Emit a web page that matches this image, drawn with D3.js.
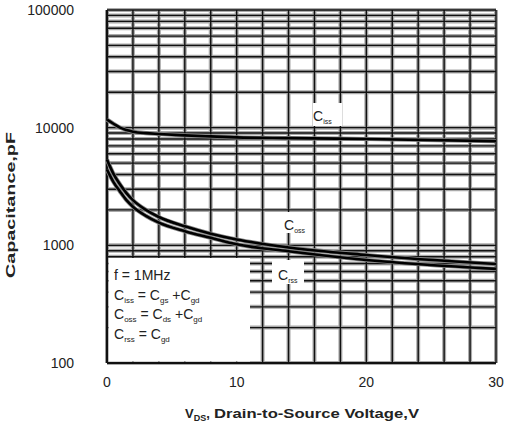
<!DOCTYPE html>
<html>
<head>
<meta charset="utf-8">
<script src="https://cdn.jsdelivr.net/npm/d3@7"></script>
<style>
  html, body { margin: 0; padding: 0; background: #fff; }
  text { font-family: "Liberation Sans", Arial, sans-serif; fill: #222; }
</style>
</head>
<body>
<script>
// ---- data ----
const voltage = [0, 0.5, 1, 1.5, 2, 3, 4, 6, 8, 10, 14, 20, 30];
const ciss = [11700, 10800, 10000, 9550, 9250, 8980, 8840, 8600, 8430, 8270, 8150, 8010, 7680];
const coss = [5350, 4050, 3300, 2780, 2420, 2000, 1740, 1450, 1255, 1120, 960, 827, 693];
const crss = [4400, 3450, 2870, 2420, 2130, 1780, 1560, 1320, 1160, 1020, 890, 750, 631];
const xTicks = [0, 10, 20, 30];
const yTicks = [100, 1000, 10000, 100000];
const legendLines = [
  [["f = 1MHz", null]],
  [["C", "iss"], [" = C", "gs"], [" +C", "gd"]],
  [["C", "oss"], [" = C", "ds"], [" +C", "gd"]],
  [["C", "rss"], [" = C", "gd"]]
];

const W = 506, H = 430;
const pLeft = 107, pRight = 496, pTop = 10, pBottom = 363;

const svg = d3.select("body").append("svg").attr("width", W).attr("height", H);

const x = d3.scaleLinear().domain([0, 30]).range([pLeft, pRight]);
const y = d3.scaleLog().domain([100, 100000]).range([pBottom, pTop]);

// grid
const vGrid = d3.range(0, 31, 2);
const hGrid = [];
[100, 1000, 10000].forEach(d => { for (let k = 1; k <= 9; k++) hGrid.push(d * k); });
hGrid.push(100000);

const g = svg.append("g");
g.selectAll(".vh").data(vGrid).join("line")
  .attr("x1", d => x(d)).attr("x2", d => x(d)).attr("y1", pTop).attr("y2", pBottom)
  .attr("stroke", "#aaa").attr("stroke-width", 4);
g.selectAll(".hh").data(hGrid).join("line")
  .attr("x1", pLeft).attr("x2", pRight).attr("y1", d => y(d)).attr("y2", d => y(d))
  .attr("stroke", "#aaa").attr("stroke-width", 4);
g.selectAll(".v").data(vGrid).join("line")
  .attr("x1", d => x(d)).attr("x2", d => x(d)).attr("y1", pTop).attr("y2", pBottom)
  .attr("stroke", "#111").attr("stroke-width", 1.4);
g.selectAll(".h").data(hGrid).join("line")
  .attr("x1", pLeft).attr("x2", pRight).attr("y1", d => y(d)).attr("y2", d => y(d))
  .attr("stroke", "#111").attr("stroke-width", 1.4);

// white masks
const masks = [
  [108.5, 258, 250, 361.5],   // legend
  [313, 103, 342, 126],       // Ciss label
  [282, 212, 310, 233],       // Coss label
  [272, 260, 304, 284]        // Crss label
];
svg.selectAll(".mask").data(masks).join("rect")
  .attr("x", d => d[0]).attr("y", d => d[1])
  .attr("width", d => d[2] - d[0]).attr("height", d => d[3] - d[1])
  .attr("fill", "#fff");

// frame
svg.append("line").attr("x1", pLeft).attr("x2", pLeft).attr("y1", pTop).attr("y2", pBottom)
  .attr("stroke", "#111").attr("stroke-width", 2.2);
svg.append("line").attr("x1", pLeft).attr("x2", pRight).attr("y1", pBottom).attr("y2", pBottom)
  .attr("stroke", "#111").attr("stroke-width", 2);

// curves
const line = d3.line().curve(d3.curveMonotoneX);
[ciss, coss, crss].forEach(series => {
  const pts = voltage.map((v, i) => [x(v), y(series[i])]);
  svg.append("path").attr("d", line(pts)).attr("fill", "none")
    .attr("stroke", "#888").attr("stroke-width", 4.2);
  svg.append("path").attr("d", line(pts)).attr("fill", "none")
    .attr("stroke", "#000").attr("stroke-width", 2.6);
});

// tick labels
svg.selectAll(".yt").data(yTicks).join("text")
  .attr("x", 74).attr("y", d => y(d)).attr("dy", "0.36em")
  .attr("text-anchor", "end").attr("font-size", 14).text(d => d);
svg.selectAll(".xt").data(xTicks).join("text")
  .attr("x", d => x(d)).attr("y", 382).attr("dy", "0.36em")
  .attr("text-anchor", "middle").attr("font-size", 14).text(d => d);

// axis titles
svg.append("text")
  .attr("transform", "translate(15,205) rotate(-90)")
  .attr("text-anchor", "middle").attr("font-size", 13).attr("font-weight", "bold")
  .attr("textLength", 146).attr("lengthAdjust", "spacingAndGlyphs")
  .text("Capacitance,pF");

const xt = svg.append("text").attr("x", 185).attr("y", 418)
  .attr("font-size", 13).attr("font-weight", "bold");
xt.append("tspan").text("V");
xt.append("tspan").attr("font-size", 9).attr("dy", 3).text("DS");
xt.append("tspan").attr("dy", -3).text(",");
svg.append("text").attr("x", 214).attr("y", 418)
  .attr("font-size", 13).attr("font-weight", "bold")
  .attr("textLength", 205).attr("lengthAdjust", "spacingAndGlyphs")
  .text("Drain-to-Source Voltage,V");

// subscripted text helper
function subText(parent, xPos, yPos, parts, size, subSize) {
  const t = parent.append("text").attr("x", xPos).attr("y", yPos).attr("font-size", size);
  let lowered = false;
  parts.forEach(([main, sub]) => {
    t.append("tspan").attr("font-size", size).attr("dy", lowered ? -3 : 0).text(main);
    lowered = false;
    if (sub) {
      t.append("tspan").attr("font-size", subSize).attr("dy", 3).text(sub);
      lowered = true;
    }
  });
  return t;
}

// curve labels
subText(svg, 313, 121, [["C", "iss"]], 14, 7);
subText(svg, 284, 230, [["C", "oss"]], 14, 7);
subText(svg, 278, 280, [["C", "rss"]], 14, 7);

// legend
legendLines.forEach((parts, i) => {
  subText(svg, 114, 280 + i * 19.7, parts, 14, 8);
});
</script>
</body>
</html>
